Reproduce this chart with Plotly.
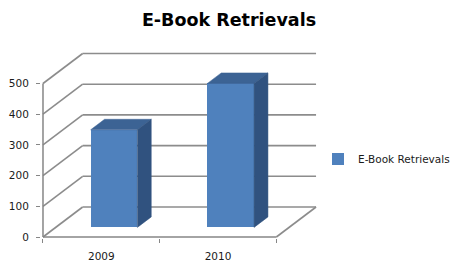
import plotly.graph_objects as go

# ---- data ----
categories = ["2009", "2010"]
values = [318, 469]
series_name = "E-Book Retrievals"
y_ticks = [0, 100, 200, 300, 400, 500]

# ---- 3D-look geometry (style) ----
DX = 0.34      # depth offset of back wall, category units
DY = 97.7      # depth offset of back wall, value units
F0, F1 = 0.32, 0.67   # bar front/back depth fractions
BW = 0.40      # bar front width
FRONT = "#4F81BD"
TOP = "#3C6394"
SIDE = "#30527F"
GRID = "#8C8C8C"
FONT = "DejaVu Sans"

n = len(categories)
xpos = list(range(n))
x_lo, x_hi = -0.5, n - 0.5

fig = go.Figure()

# front faces via bars
fig.add_trace(go.Bar(
    x=[i + F0 * DX for i in xpos], y=values, base=[F0 * DY] * n,
    width=BW, marker=dict(color=FRONT, line=dict(width=0)),
    name=series_name, showlegend=True, hoverinfo="skip"))

# top and side faces
for i, v in zip(xpos, values):
    xl = i + F0 * DX - BW / 2
    xr = i + F0 * DX + BW / 2
    ddx = (F1 - F0) * DX
    ddy = (F1 - F0) * DY
    yb = F0 * DY
    yt = v + F0 * DY
    fig.add_trace(go.Scatter(
        x=[xl, xr, xr + ddx, xl + ddx, xl], y=[yt, yt, yt + ddy, yt + ddy, yt],
        fill="toself", fillcolor=TOP, mode="lines", line=dict(width=0.5, color=TOP),
        showlegend=False, hoverinfo="skip"))
    fig.add_trace(go.Scatter(
        x=[xr, xr + ddx, xr + ddx, xr, xr], y=[yb, yb + ddy, yt + ddy, yt, yb],
        fill="toself", fillcolor=SIDE, mode="lines", line=dict(width=0.5, color=SIDE),
        showlegend=False, hoverinfo="skip"))

# walls / gridlines as background shapes
shapes = []
line = dict(color=GRID, width=1.6)
for v in y_ticks:
    shapes.append(dict(type="line", layer="below", xref="x", yref="y",
                       x0=x_lo + DX, x1=x_hi + DX, y0=v + DY, y1=v + DY, line=line))
    shapes.append(dict(type="line", layer="below", xref="x", yref="y",
                       x0=x_lo, x1=x_lo + DX, y0=v, y1=v + DY, line=line))
# floor right edge
shapes.append(dict(type="line", layer="below", xref="x", yref="y",
                   x0=x_hi, x1=x_hi + DX, y0=0, y1=DY, line=line))
# front axes
shapes.append(dict(type="line", layer="below", xref="x", yref="y",
                   x0=x_lo, x1=x_hi, y0=0, y1=0, line=dict(color="#868686", width=1.5)))
shapes.append(dict(type="line", layer="below", xref="x", yref="y",
                   x0=x_lo, x1=x_lo, y0=0, y1=max(y_ticks), line=dict(color="#868686", width=1.5)))

fig.update_layout(
    width=453, height=262,
    margin=dict(l=41, r=123, t=45, b=24, autoexpand=False),
    paper_bgcolor="white", plot_bgcolor="white",
    font=dict(family=FONT, size=10.5, color="#1a1a1a"),
    title=dict(text="<b>E-Book Retrievals</b>", x=229 / 453, xref="container",
               xanchor="center", y=1 - 20 / 262, yref="container", yanchor="middle",
               font=dict(family=FONT, size=17.5, color="#000000")),
    shapes=shapes,
    showlegend=True,
    legend=dict(xref="container", yref="container", x=318 / 453, y=1 - 159 / 262,
                xanchor="left", yanchor="middle",
                font=dict(family=FONT, size=10.5, color="#1a1a1a"),
                bgcolor="rgba(0,0,0,0)"),
    xaxis=dict(range=[-0.5 - 2 / 117.5, -0.5 + 289 / 117.5], showgrid=False, zeroline=False,
               showline=False, tickvals=xpos, ticktext=categories, ticks="",
               ticklabelstandoff=10, tickfont=dict(size=10.5),
               minor=dict(tickvals=[x_lo + k for k in range(n + 1)], ticks="outside",
                          ticklen=4, tickcolor="#868686", tickwidth=1.2)),
    yaxis=dict(range=[-1 / 0.307, (238 - 45) / 0.307 - 1 / 0.307], showgrid=False, zeroline=False,
               showline=False, tickvals=y_ticks, ticks="outside", ticklen=4,
               tickcolor="#868686", tickwidth=1.2, ticklabelstandoff=5,
               tickfont=dict(size=10.5)),
    bargap=0,
)

fig.write_html("out.html", config={"displayModeBar": False},
               post_script="document.body.style.margin='0';document.body.style.padding='0';")
